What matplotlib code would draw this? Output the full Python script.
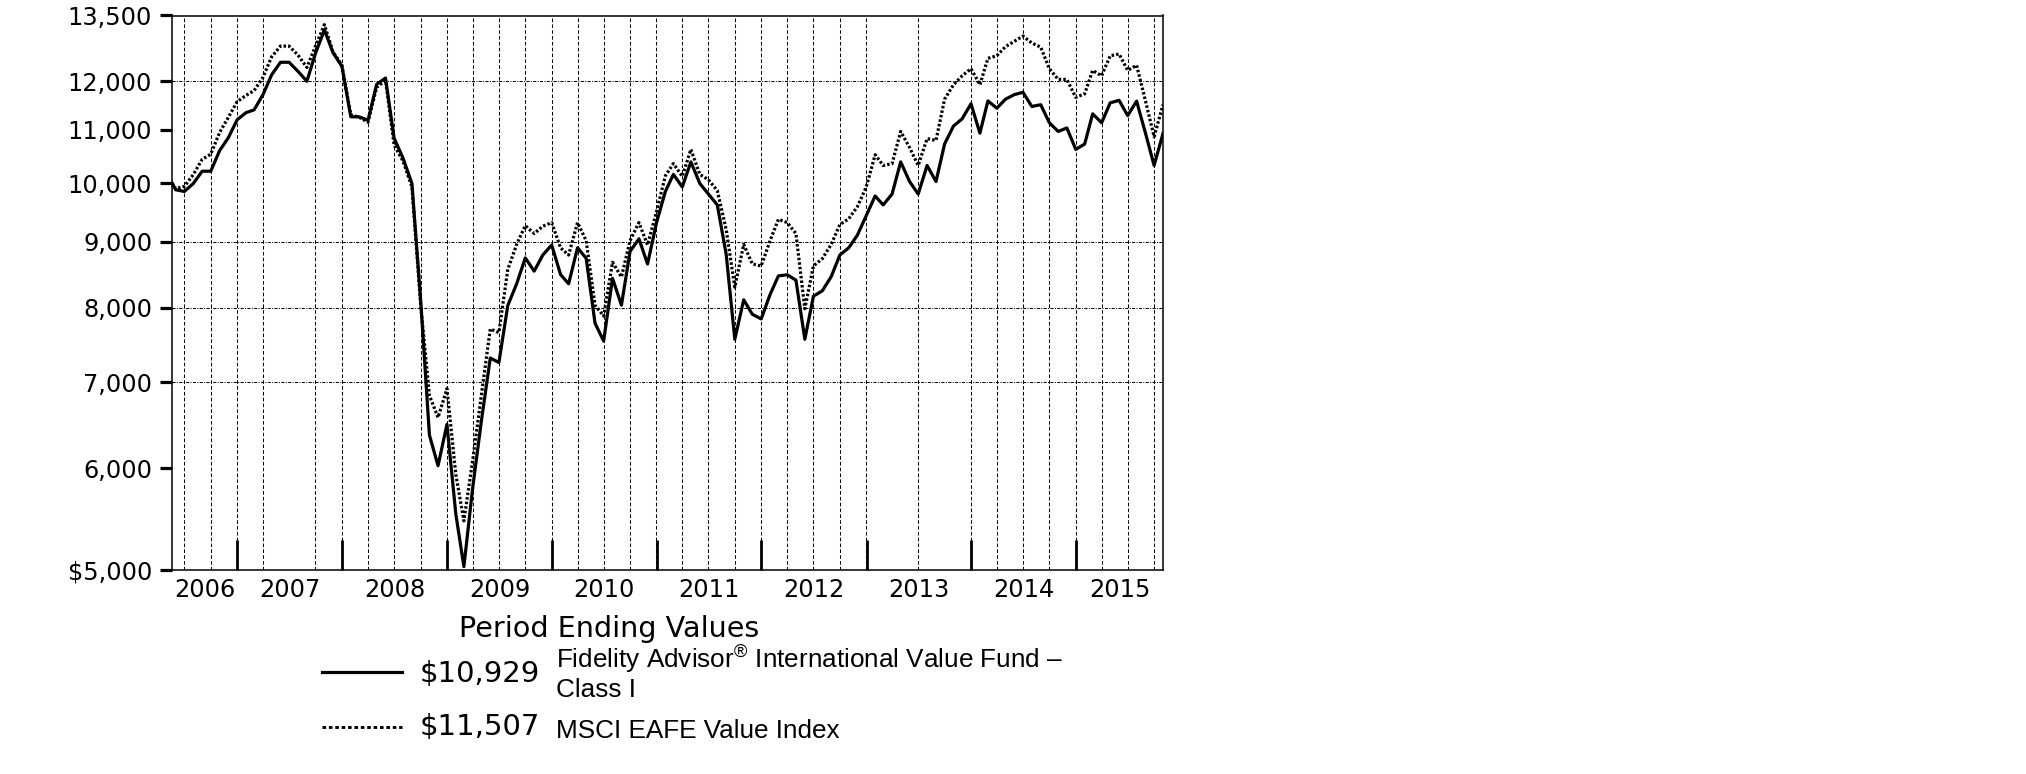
import matplotlib
matplotlib.use("Agg")
import matplotlib.pyplot as plt
import matplotlib.dates as mdates
from matplotlib import font_manager
from matplotlib.lines import Line2D
from matplotlib.ticker import NullLocator, FixedLocator
import pandas as pd

# ---------------- data ----------------
start_date = "2006-05-18"
end_date = "2015-10-31"

# Fidelity Advisor International Value Fund - Class I (start + month ends)
fund_values = [
    10000, 9880, 9850, 9990, 10214, 10214, 10600, 10843, 11200,                  # 2006
    11344, 11400, 11716, 12137, 12415, 12415, 12215, 12000, 12615, 13155, 12630, 12324,  # 2007
    11260, 11260, 11190, 11934, 12070, 10836, 10456, 9993, 8133, 6366, 6027, 6490,       # 2008
    5526, 5030, 5800, 6530, 7310, 7250, 8030, 8350, 8745, 8540, 8790, 8950,              # 2009
    8487, 8350, 8905, 8740, 7780, 7535, 8430, 8035, 8847, 9049, 8650, 9310,              # 2010
    9850, 10156, 9930, 10386, 9993, 9805, 9616, 8800, 7559, 8112, 7905, 7840,            # 2011
    8191, 8468, 8484, 8403, 7559, 8165, 8245, 8457, 8790, 8905, 9107, 9433,              # 2012
    9771, 9616, 9805, 10386, 10027, 9805, 10320, 10027, 10725, 11075, 11218, 11525,      # 2013
    10935, 11585, 11435, 11620, 11716, 11765, 11470, 11506, 11140, 10968, 11037, 10622,  # 2014
    10723, 11320, 11140, 11545, 11596, 11285, 11580, 10934, 10320, 10929,                # 2015
]

# MSCI EAFE Value Index
index_values = [
    10000, 9900, 9940, 10150, 10433, 10530, 10950, 11245, 11570,                 # 2006
    11700, 11800, 12085, 12535, 12780, 12780, 12575, 12300, 12780, 13280, 12650, 12350,  # 2007
    11300, 11250, 11150, 11870, 12020, 10700, 10400, 9930, 8060, 6834, 6570, 6920,       # 2008
    5931, 5460, 6090, 6840, 7700, 7650, 8567, 8960, 9266, 9135, 9255, 9316,              # 2009
    8903, 8790, 9316, 9020, 8035, 7880, 8677, 8450, 9020, 9316, 8950, 9496,              # 2010
    10130, 10355, 10120, 10622, 10156, 10060, 9866, 9200, 8297, 8960, 8650, 8620,        # 2011
    9020, 9371, 9316, 9135, 7984, 8620, 8733, 8960, 9283, 9380, 9585, 9930,              # 2012
    10520, 10320, 10353, 10968, 10656, 10320, 10828, 10793, 11620, 11925, 12117, 12273,  # 2013
    11925, 12503, 12560, 12767, 12890, 13012, 12850, 12756, 12273, 12040, 12040, 11658,  # 2014
    11733, 12235, 12117, 12560, 12600, 12235, 12350, 11585, 10864, 11507,                # 2015
]

y_ticks = [5000, 6000, 7000, 8000, 9000, 10000, 11000, 12000, 13500]
y_tick_labels = ["$5,000", "6,000", "7,000", "8,000", "9,000", "10,000",
                 "11,000", "12,000", "13,500"]
y_grid = [7000, 8000, 9000, 12000]
year_labels = ["2006", "2007", "2008", "2009", "2010", "2011", "2012", "2013", "2014", "2015"]

legend_title = "Period Ending Values"
fund_end_label = "$10,929"
index_end_label = "$11,507"
fund_name_1 = "Fidelity Advisor$^{\u00ae}$ International Value Fund \u2013"
fund_name_2 = "Class I"
index_name = "MSCI EAFE Value Index"

# ---------------- setup ----------------
W, H, DPI = 2026, 774, 100
plt.rcParams["lines.scale_dashes"] = False
plt.rcParams["mathtext.fontset"] = "custom"
names = {f.name for f in font_manager.fontManager.ttflist}
has_narrow = "Liberation Sans Narrow" in names
leg_font = "Liberation Sans Narrow" if has_narrow else "Liberation Sans"
leg_size = 21 if has_narrow else 18.8
plt.rcParams["mathtext.rm"] = leg_font
plt.rcParams["mathtext.it"] = leg_font
plt.rcParams["mathtext.bf"] = leg_font

try:
    month_ends = pd.date_range("2006-05-31", end_date, freq="ME")
except Exception:
    month_ends = pd.date_range("2006-05-31", end_date, freq="M")
dates = pd.DatetimeIndex([pd.Timestamp(start_date)]).append(month_ends)
xd = mdates.date2num(dates.to_pydatetime())

fig = plt.figure(figsize=(W / DPI, H / DPI), dpi=DPI)
fig.patch.set_facecolor("white")
ax = fig.add_axes([172 / W, 1 - 570 / H, (1163 - 172) / W, (570 - 15.5) / H])

x0 = mdates.date2num(pd.Timestamp(start_date).to_pydatetime())
x1 = mdates.date2num(pd.Timestamp(end_date).to_pydatetime())

# grid lines
skip_q = {"2007-06-30", "2013-03-31", "2013-09-30"}
for y in range(2006, 2016):
    for md in ("03-31", "06-30", "09-30", "12-31"):
        d = f"{y}-{md}"
        if d in skip_q:
            continue
        xv = mdates.date2num(pd.Timestamp(d).to_pydatetime())
        if x0 < xv < x1:
            ax.axvline(xv, color="black", lw=0.75, ls=(0, (2.6, 1.6)), zorder=1)
for gy in y_grid:
    ax.axhline(gy, color="black", lw=0.75, ls=(0, (2.2, 1.0, 0.7, 1.0)), zorder=1)

ax.plot(xd, index_values, color="black", lw=2.3, ls=(0, (1.8, 1.5)), zorder=3)
ax.plot(xd, fund_values, color="black", lw=2.3, ls="-", zorder=4)

ax.set_yscale("log")
ax.set_ylim(5000, 13500)
ax.set_xlim(x0, x1)
ax.yaxis.set_major_locator(FixedLocator(y_ticks))
ax.set_yticklabels(y_tick_labels)
ax.yaxis.set_minor_locator(NullLocator())
ax.tick_params(axis="y", which="major", direction="out", length=8.8, width=2.3,
               pad=5.5, labelsize=17.3, right=False)

bounds = [mdates.date2num(pd.Timestamp(f"{y}-01-01").to_pydatetime()) for y in range(2007, 2016)]
edges = [x0] + bounds + [x1]
mids = [(edges[i] + edges[i + 1]) / 2 for i in range(len(edges) - 1)]
ax.xaxis.set_major_locator(FixedLocator(bounds))
ax.xaxis.set_minor_locator(FixedLocator(mids))
ax.set_xticklabels([], minor=False)
ax.set_xticklabels(year_labels, minor=True)
ax.tick_params(axis="x", which="major", direction="in", length=21.6, width=2.0,
               top=False, labelbottom=False)
ax.tick_params(axis="x", which="minor", length=0, pad=6, labelsize=17.3, top=False)

for sp in ax.spines.values():
    sp.set_linewidth(1.1)
    sp.set_color("black")

# ---------------- legend block ----------------
def fx(px):
    return px / W

def fy(py):
    return 1 - py / H

fig.text(fx(609), fy(629), legend_title, ha="center", va="center",
         fontsize=20.6, family="DejaVu Sans")
fig.add_artist(Line2D([fx(322), fx(402)], [fy(672), fy(672)], color="black", lw=2.3,
                      transform=fig.transFigure))
fig.add_artist(Line2D([fx(322), fx(402)], [fy(727), fy(727)], color="black", lw=2.1,
                      ls=(0, (2.6, 2.0)), transform=fig.transFigure))
fig.text(fx(420), fy(674), fund_end_label, ha="left", va="center", fontsize=21,
         family="DejaVu Sans")
fig.text(fx(420), fy(727), index_end_label, ha="left", va="center", fontsize=21,
         family="DejaVu Sans")
fig.text(fx(556), fy(660), fund_name_1, ha="left", va="center", fontsize=leg_size,
         family=leg_font)
fig.text(fx(556), fy(690), fund_name_2, ha="left", va="center", fontsize=leg_size,
         family=leg_font)
fig.text(fx(556), fy(731), index_name, ha="left", va="center", fontsize=leg_size,
         family=leg_font)

fig.savefig("out.png", dpi=DPI, facecolor="white")
